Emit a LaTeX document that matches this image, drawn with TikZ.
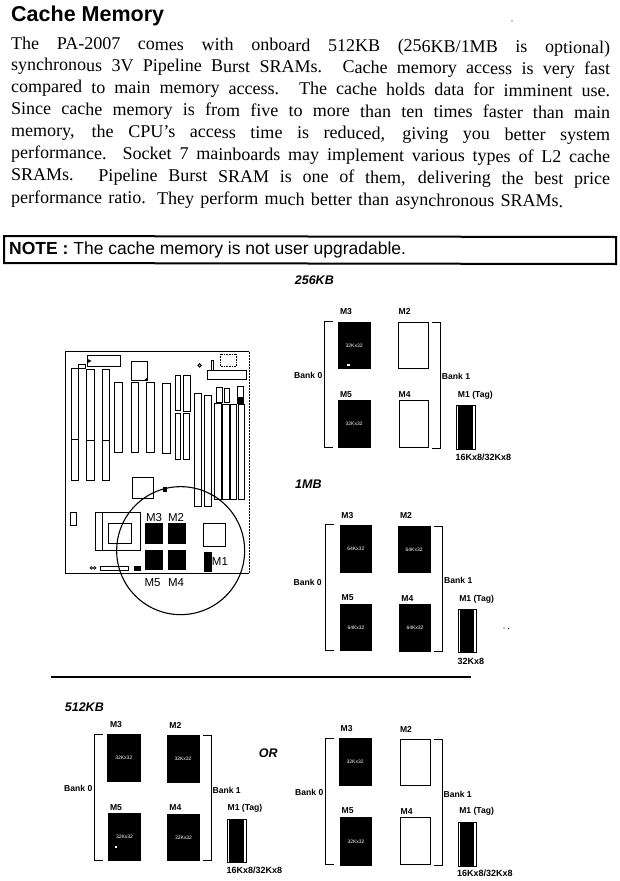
\documentclass[tikz,border=0pt]{standalone}
\usepackage{fontspec}
\setmainfont{Liberation Serif}
\newfontfamily\arialf{Liberation Sans}
\newcommand{\fs}[1]{\fontsize{#1}{#1}\selectfont}
\tikzset{
  cropA/.style={x=0.3333pt,y=-0.3333pt},
  blackchip/.style={fill=black,draw=black,line width=0.5pt},
  whitechip/.style={fill=white,draw=black,line width=0.9pt},
  slotbox/.style={draw=black,fill=white,line width=0.6pt},
  brk/.style={draw=black,line width=0.9pt},
  lab/.style={inner sep=0pt,font=\arialf\bfseries\fs{8.6}},
  sizelab/.style={inner sep=0pt,font=\arialf\bfseries\fs{9}},
  biglab/.style={inner sep=0pt,font=\arialf\fs{11.5}},
  chiptxt/.style={inner sep=0pt,text=white,font=\arialf\fs{5}},
  headtxt/.style={inner sep=0pt,font=\arialf\bfseries\itshape\fs{12.5}},
  bodyline/.style={anchor=base west,inner sep=0pt,rotate=-0.42,font=\fs{18}}
}
% chip in crop coordinates
\newcommand{\bchip}[6]{\draw[blackchip] (#2,#3) rectangle (#4,#5);
  \node[chiptxt] (#1) at ({(#2+#4)/2},{(#3+#5)/2}) {#6};}
\newcommand{\wchip}[5]{\draw[whitechip] (#2,#3) rectangle (#4,#5);
  \node[inner sep=0pt] (#1) at ({(#2+#4)/2},{(#3+#5)/2}) {};}
\newcommand{\tagchip}[5]{\draw[draw=black,line width=0.5pt] (#2,#3) rectangle (#4,#5);
  \fill[black] ({#2+4},#3) rectangle ({#4-6},#5);
  \node[inner sep=0pt] (#1) at ({(#2+#4)/2},{(#3+#5)/2}) {};}
\newcommand{\lbrk}[3]{\draw[brk] ({#1+26},#2) -- (#1,#2) -- (#1,#3) -- ({#1+26},#3);}
\newcommand{\rbrk}[3]{\draw[brk] ({#1-24},#2) -- (#1,#2) -- (#1,#3) -- ({#1-24},#3);}
\begin{document}
\begin{tikzpicture}[x=1pt,y=-1pt]
\useasboundingbox (0,0) rectangle (620,881);
% title and body
\node[anchor=west,inner sep=0pt,font=\arialf\bfseries\fs{21.5}] (title) at (11,16) {Cache Memory};
\node[bodyline] (l1) at (11,49) {\makebox[599pt][s]{The PA-2007 comes with onboard 512KB (256KB/1MB is optional)}};
\node[bodyline] (l2) at (11,70.5) {\makebox[599pt][s]{synchronous 3V Pipeline Burst SRAMs. Cache memory access is very fast}};
\node[bodyline] (l3) at (11,92.5) {\makebox[599pt][s]{compared to main memory access. The cache holds data for imminent use.}};
\node[bodyline] (l4) at (11,114.5) {\makebox[599pt][s]{Since cache memory is from five to more than ten times faster than main}};
\node[bodyline] (l5) at (11,136.5) {\makebox[599pt][s]{memory, the CPU's access time is reduced, giving you better system}};
\node[bodyline] (l6) at (11,158.5) {\makebox[599pt][s]{performance. Socket 7 mainboards may implement various types of L2 cache}};
\node[bodyline] (l7) at (11,180.5) {\makebox[599pt][s]{SRAMs. Pipeline Burst SRAM is one of them, delivering the best price}};
\node[bodyline] (l8) at (11,203) {\makebox[552pt][s]{performance ratio. They perform much better than asynchronous SRAMs.}};
\node[inner sep=0pt,circle,fill=black,minimum size=1.2pt] (speck1) at (512,21) {};
% note
\draw[line width=2pt] (4,236) -- (616,237) -- (616,264) -- (4,263) -- cycle;
\node[anchor=west,inner sep=0pt,font=\arialf\fs{17.5}] (note) at (9,249.5) {\textbf{NOTE :} The cache memory is not user upgradable.};
% board
\begin{scope}[shift={(50pt,-340pt)},cropA]
\draw[line width=0.5pt,densely dotted] (598,35) -- (598,700);
\draw[line width=1.6pt] (598,35) -- (47,35) -- (47,700) -- (598,700);
\foreach \a/\b/\c/\d/\e in {63/85/85/420/298,110/88/132/420/300,157/88/178/422/300}{
  \draw[slotbox] (\a,\b) rectangle (\c,\d);
  \draw[line width=0.6pt] (\a,\e) -- (\c,\e);}
\foreach \a/\b/\c/\d in {193/128/217/338,243/128/265/338,290/128/313/338,338/130/361/340,
  377/105/392/210,400/105/420/215,377/220/392/358,400/220/418/358,
  433/160/453/500,462/165/483/500,493/190/513/478,518/193/538/478,542/193/560/478,565/193/583/478,
  500/143/516/188,523/145/538/188,563/140/580/190,
  113/47/212/80,85/72/105/85,245/65/292/122,483/62/490/92,472/92/590/117,
  248/413/310/475,62/518/78/555,135/518/270/632,175/550/245/610,135/518/157/632,152/680/235/692}{
  \draw[slotbox] (\a,\b) rectangle (\c,\d);}
\draw[slotbox,densely dotted] (510,42) rectangle (560,78);
\fill[black] (113,57) -- (125,63) -- (113,69) -- cycle;
\fill[black] (282,122) -- (292,122) -- (292,112) -- cycle;
\fill[black] (563,172) rectangle (580,190);
\draw[line width=1pt] (449,76) circle (5);
\fill[black] (338,442) rectangle (352,457);
\draw[line width=0.7pt] (124,684) circle (4) (134,684) circle (4);
\fill[black] (253,678) rectangle (272,692);
\wchip{bw}{460}{550}{525}{620}
\fill[black] (285,548) rectangle (338,612);
\fill[black] (355,548) rectangle (408,612);
\fill[black] (285,630) rectangle (338,690);
\fill[black] (355,630) rectangle (408,690);
\fill[black] (463,635) rectangle (485,695);
\node[biglab] (bm3) at (312,533) {M3};
\node[biglab] (bm2) at (378,533) {M2};
\node[biglab] (bm5) at (308,727) {M5};
\node[biglab] (bm4) at (378,727) {M4};
\node[biglab] (bm1) at (510,665) {M1};
\draw[line width=1.1pt] (392,632) circle (192);
\end{scope}
% 256KB
\begin{scope}[shift={(280pt,-270pt)},cropA]
\node[headtxt] (h256) at (103,32) {256KB};
\bchip{a3}{175}{157}{270}{295}{32Kx32}
\fill[white] (201,281) rectangle (209,289);
\wchip{a2}{355}{157}{445}{295}
\bchip{a5}{175}{390}{270}{532}{32Kx32}
\wchip{a4}{358}{392}{446}{532}
\lbrk{133}{155}{532}
\rbrk{480}{157}{535}
\node[lab] at (198,125) {M3};
\node[lab] at (374,125) {M2};
\node[lab] at (198,373) {M5};
\node[lab] at (374,373) {M4};
\node[lab] at (85,317) {Bank 0};
\node[lab] at (528,320) {Bank 1};
\node[lab] at (586,375) {M1 (Tag)};
\tagchip{a1}{530}{407}{585}{538}
\node[sizelab] at (610,562) {16Kx8/32Kx8};
\end{scope}
% 1MB
\begin{scope}[shift={(280pt,-475pt)},cropA]
\node[headtxt] (h1m) at (85,28) {1MB};
\bchip{b3}{180}{150}{275}{292}{64Kx32}
\bchip{b2}{355}{153}{450}{293}{64Kx32}
\bchip{b5}{181}{388}{275}{527}{64Kx32}
\bchip{b4}{358}{388}{452}{530}{64Kx32}
\lbrk{137}{148}{525}
\rbrk{487}{153}{530}
\node[lab] at (202,122) {M3};
\node[lab] at (378,122) {M2};
\node[lab] at (203,368) {M5};
\node[lab] at (382,370) {M4};
\node[lab] at (83,323) {Bank 0};
\node[lab] at (535,316) {Bank 1};
\node[lab] at (590,372) {M1 (Tag)};
\tagchip{b1}{535}{403}{588}{533}
\node[sizelab] at (573,558) {32Kx8};
\fill[black] (672,459) circle (2) (686,461) circle (2);
\end{scope}
% rule
\coordinate (ruleL) at (51,677);
\coordinate (ruleR) at (471,677);
\draw[line width=1.1pt] (ruleL) -- (ruleR);
% 512KB
\begin{scope}[shift={(50pt,-695pt)},cropA]
\node[headtxt] (h512) at (103,38) {512KB};
\bchip{c3}{173}{118}{270}{260}{32Kx32}
\bchip{c2}{351}{120}{447}{263}{32Kx32}
\bchip{c5}{175}{355}{272}{497}{32Kx32}
\fill[white] (194,452) rectangle (200,460);
\bchip{c4}{352}{357}{449}{497}{32Kx32}
\lbrk{133}{117}{495}
\rbrk{483}{120}{497}
\node[lab] at (198,90) {M3};
\node[lab] at (376,90) {M2};
\node[lab] at (198,337) {M5};
\node[lab] at (376,338) {M4};
\node[lab] at (85,280) {Bank 0};
\node[lab] at (530,285) {Bank 1};
\node[lab] at (585,340) {M1 (Tag)};
\tagchip{c1}{532}{372}{588}{503}
\node[sizelab] at (613,527) {16Kx8/32Kx8};
\node[headtxt] (orl) at (655,175) {OR};
\end{scope}
% 512KB alternative
\begin{scope}[shift={(280pt,-695pt)},cropA]
\bchip{d3}{178}{130}{273}{272}{32Kx32}
\wchip{d2}{360}{132}{450}{270}
\bchip{d5}{181}{368}{275}{510}{32Kx32}
\wchip{d4}{360}{368}{450}{508}
\lbrk{137}{130}{508}
\rbrk{486}{132}{510}
\node[lab] at (200,100) {M3};
\node[lab] at (378,102) {M2};
\node[lab] at (203,348) {M5};
\node[lab] at (380,350) {M4};
\node[lab] at (88,292) {Bank 0};
\node[lab] at (533,297) {Bank 1};
\node[lab] at (590,350) {M1 (Tag)};
\tagchip{d1}{535}{382}{588}{513}
\node[sizelab] at (615,535) {16Kx8/32Kx8};
\end{scope}
\end{tikzpicture}
\end{document}
